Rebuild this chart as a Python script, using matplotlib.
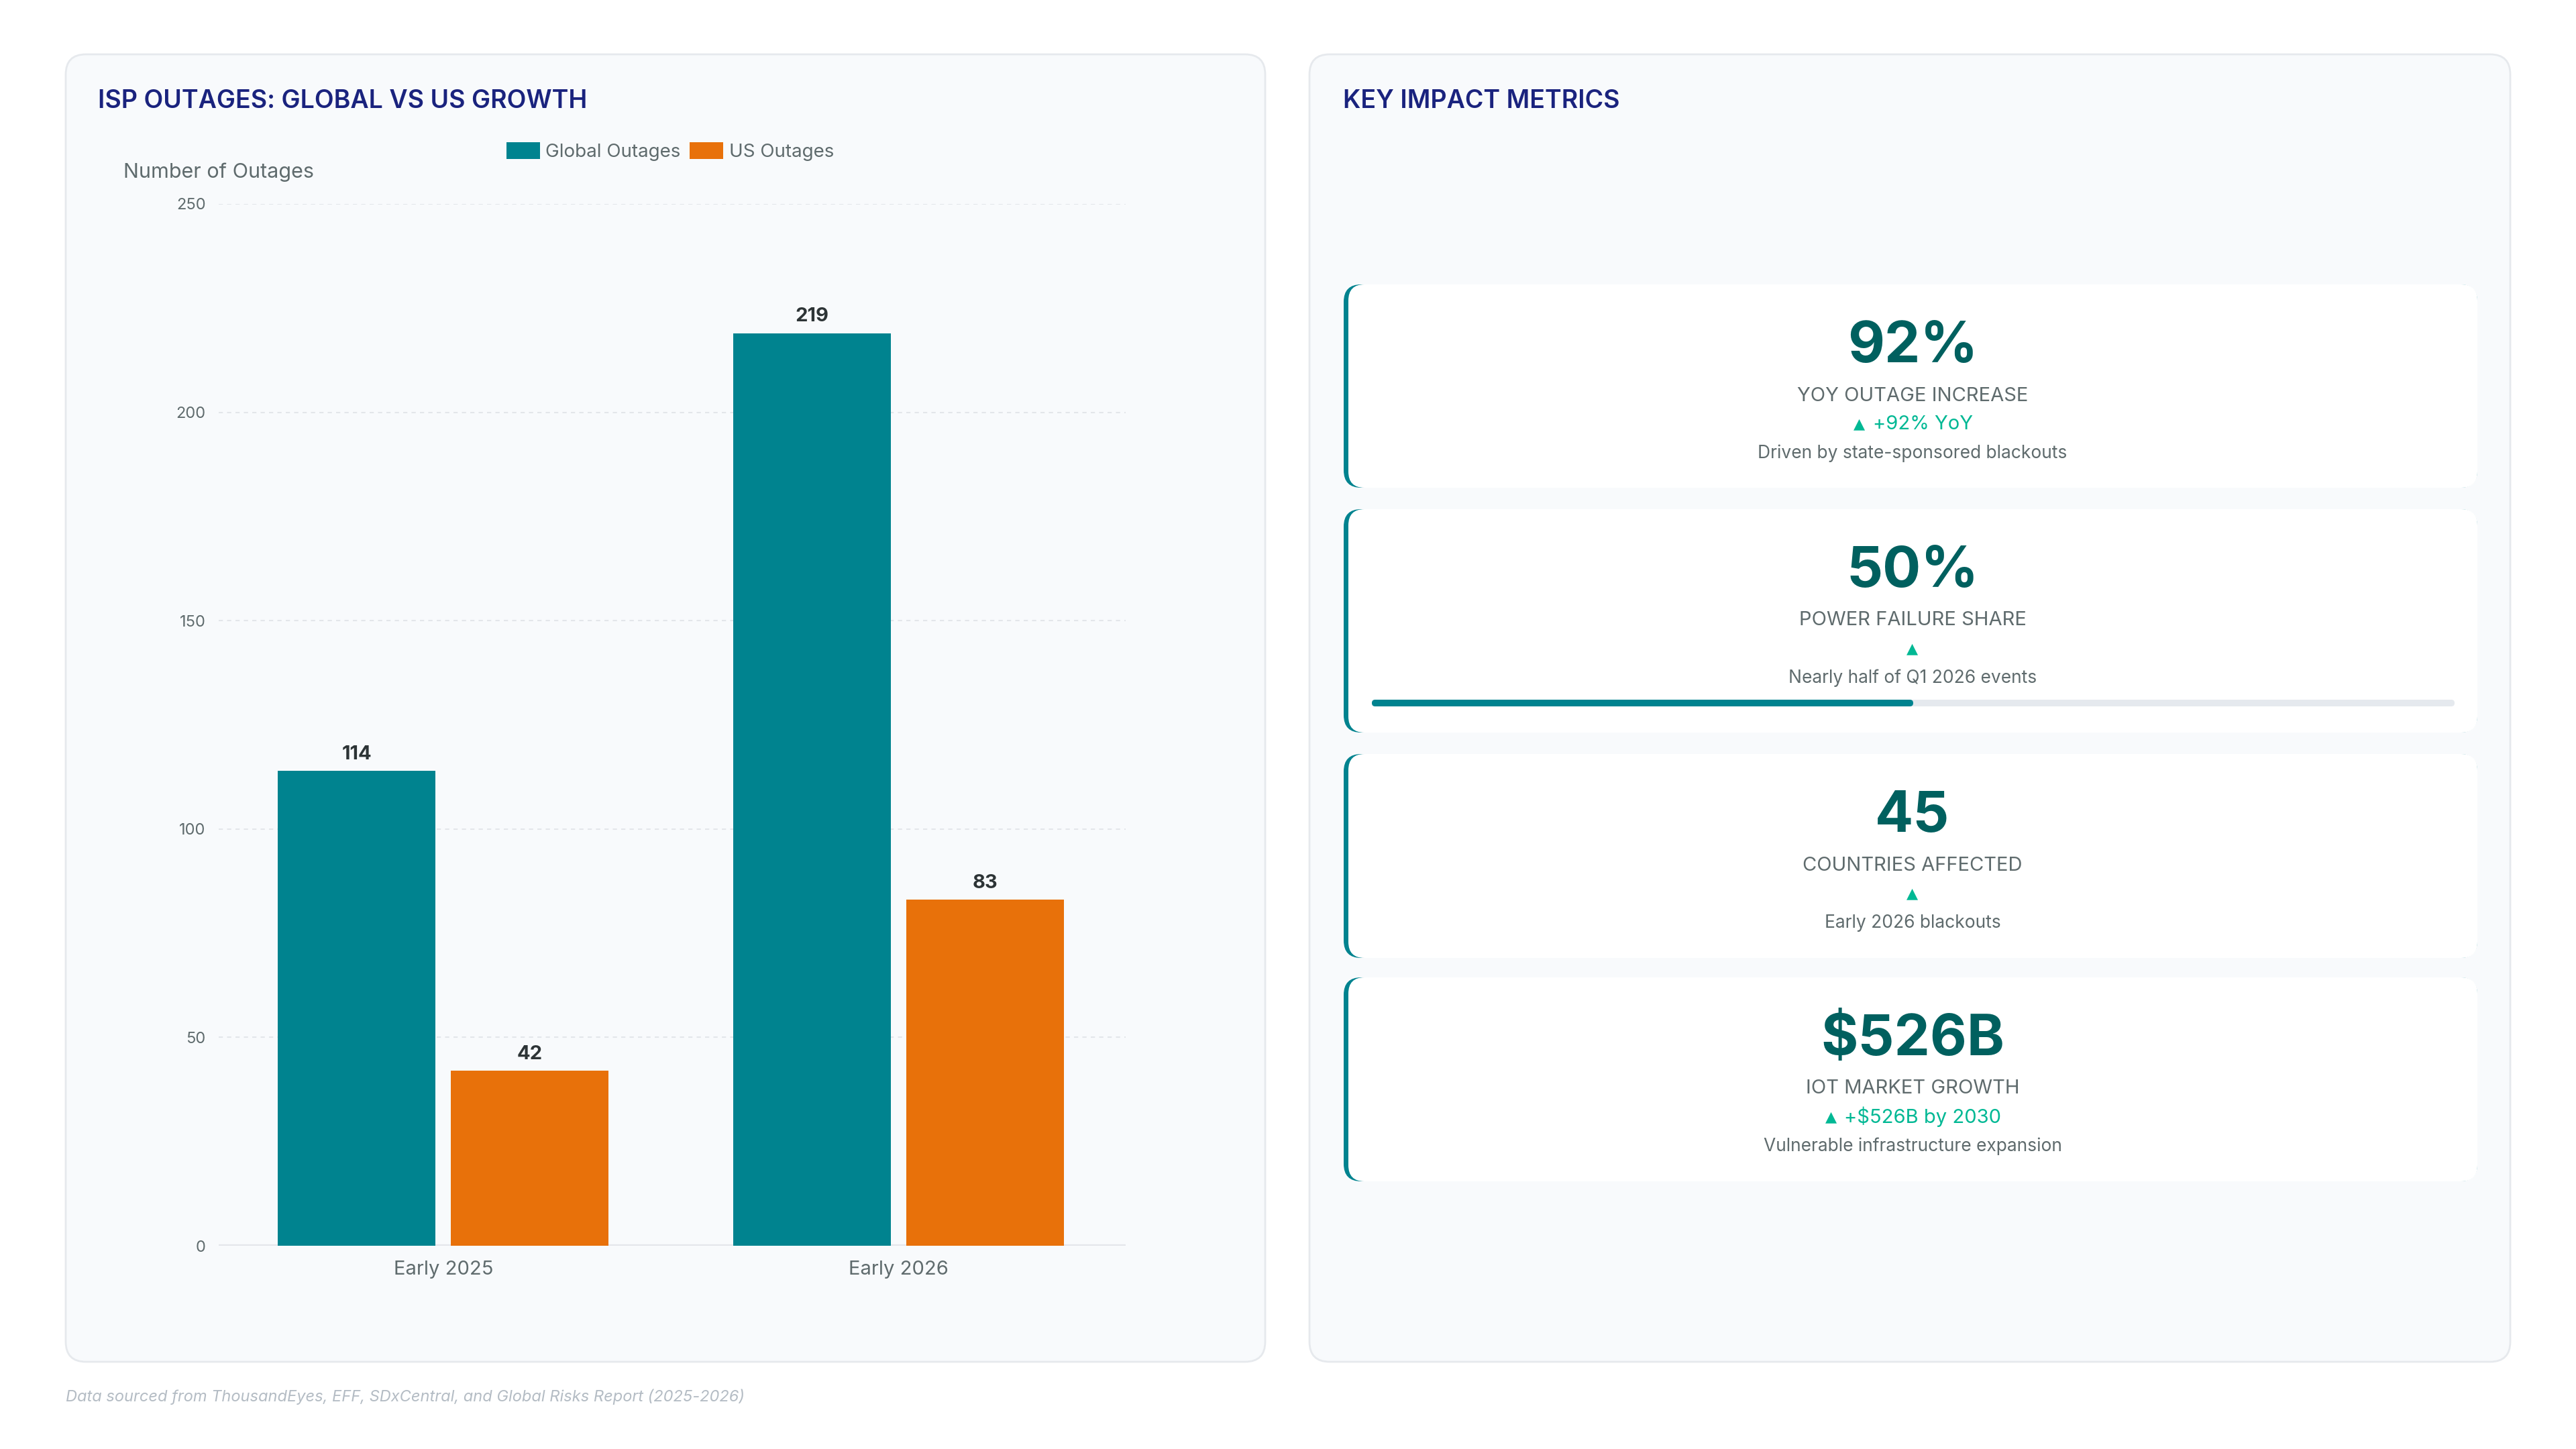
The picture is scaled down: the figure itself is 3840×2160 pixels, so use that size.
import matplotlib
matplotlib.use('Agg')
from matplotlib import pyplot
from matplotlib.patches import FancyBboxPatch, Patch

# chart data
periods = ['Early 2025', 'Early 2026']
global_outages = [114, 219]
us_outages = [42, 83]
y_ticks = [0, 50, 100, 150, 200, 250]

# metric cards
metric_values = ['92%', '50%', '45', '$526B']
metric_labels = ['YOY OUTAGE INCREASE', 'POWER FAILURE SHARE',
                 'COUNTRIES AFFECTED', 'IOT MARKET GROWTH']
metric_deltas = ['+92% YoY', '', '', '+$526B by 2030']
metric_notes = ['Driven by state-sponsored blackouts',
                'Nearly half of Q1 2026 events',
                'Early 2026 blackouts',
                'Vulnerable infrastructure expansion']
power_share = 0.50

# colours
cols = {'global': '#00838f', 'us': '#e8710a'}
NAVY = '#1a237e'
GREY = '#5f6b6d'
TEAL_DARK = '#00605f'
GREEN = '#00b894'

pyplot.rcParams['font.family'] = ['Inter', 'DejaVu Sans']

W, H = 3840, 2160
fig = pyplot.figure(figsize=(38.4, 21.6), dpi=100)
fig.patch.set_facecolor('white')

# background axes in pixel units
bg = fig.add_axes([0, 0, 1, 1])
bg.set_xlim(0, W)
bg.set_ylim(H, 0)
bg.axis('off')


def panel(x0, y0, x1, y1, fc, ec, r, lw=2.0):
    p = FancyBboxPatch((x0, y0), x1 - x0, y1 - y0,
                       boxstyle='round,pad=0,rounding_size=%d' % r,
                       fc=fc, ec=ec, lw=lw)
    bg.add_patch(p)


# the two large panels
panel(98, 81, 1886, 2030, '#f8fafc', '#e6e9ed', 30)
panel(1952, 81, 3742, 2030, '#f8fafc', '#e6e9ed', 30)

bg.text(146, 151, 'ISP OUTAGES: GLOBAL VS US GROWTH', color=NAVY,
        fontsize=27, fontweight='semibold', va='center', ha='left')
bg.text(2002, 151, 'KEY IMPACT METRICS', color=NAVY,
        fontsize=27, fontweight='semibold', va='center', ha='left')
bg.text(184, 257, 'Number of Outages', color=GREY, fontsize=22,
        va='center', ha='left')
bg.text(98, 2082, 'Data sourced from ThousandEyes, EFF, SDxCentral, and '
        'Global Risks Report (2025-2026)', color='#b4bcc4', fontsize=17,
        style='italic', va='center', ha='left')

# metric cards
card_tops = [424, 759, 1124, 1457]
card_bots = [727, 1092, 1428, 1761]
cx = 2851
for i in range(len(metric_values)):
    t, b = card_tops[i], card_bots[i]
    # teal left accent, then white card on top
    panel(2003, t, 3693, b, '#00838f', 'none', 26, lw=0)
    panel(2010, t, 3693, b, 'white', 'none', 24, lw=0)
    # the rows inside the card
    bg.text(cx, t + 116, metric_values[i], color=TEAL_DARK, fontsize=61,
            fontweight='bold', ha='center', va='baseline')
    bg.text(cx, t + 166, metric_labels[i], color=GREY, fontsize=21,
            ha='center', va='center')
    if metric_deltas[i]:
        dt = bg.text(cx + 15, t + 208, metric_deltas[i], color=GREEN,
                     fontsize=21, ha='center', va='center')
        bg.annotate('▲', xy=(0, 0.5), xycoords=dt, xytext=(-8, 0),
                    textcoords='offset points', color=GREEN, fontsize=16,
                    family=['DejaVu Sans'], ha='right', va='center')
    else:
        bg.text(cx, t + 208, '▲', color=GREEN, fontsize=16,
                family=['DejaVu Sans'], ha='center', va='center')
    bg.text(cx, t + 252, metric_notes[i], color=GREY, fontsize=19,
            ha='center', va='center')

# progress bar in the power failure card
px0, px1, py = 2045, 3659, 1048
bg.add_patch(FancyBboxPatch((px0, py - 5), px1 - px0, 10,
                            boxstyle='round,pad=0,rounding_size=5',
                            fc='#e5e9ee', ec='none'))
bg.add_patch(FancyBboxPatch((px0, py - 5), (px1 - px0) * power_share, 10,
                            boxstyle='round,pad=0,rounding_size=5',
                            fc='#00838f', ec='none'))

# bar chart axes
ax = fig.add_axes([326 / W, 1 - 1857 / H, (1678 - 326) / W, (1857 - 304) / H])
ax.set_facecolor('none')
x = list(range(len(periods)))
width = 0.346
off = 0.19
b1 = ax.bar([i - off for i in x], global_outages, width=width,
            color=cols['global'], zorder=3)
b2 = ax.bar([i + off for i in x], us_outages, width=width,
            color=cols['us'], zorder=3)
for bars, vals in [(b1, global_outages), (b2, us_outages)]:
    for rect, v in zip(bars, vals):
        ax.annotate('%d' % v, (rect.get_x() + rect.get_width() / 2, v),
                    xytext=(0, 8), textcoords='offset points',
                    ha='center', va='bottom', fontsize=21,
                    fontweight='bold', color='#2d3436')

ax.set_xlim(-0.493, 1.498)
ax.set_ylim(0, 250)
ax.set_yticks(y_ticks)
ax.set_xticks(x)
ax.set_xticklabels(periods)
ax.tick_params(axis='y', length=0, labelsize=17, labelcolor=GREY, pad=14)
ax.tick_params(axis='x', length=0, labelsize=21, labelcolor=GREY, pad=16)
for s in ax.spines.values():
    s.set_visible(False)
ax.grid(axis='y', color='#e3e6ea', linestyle=(0, (3, 3)), linewidth=1.5,
        zorder=0)
ax.axhline(0, color='#e3e6ea', linewidth=3, zorder=2)

# legend above the plot
handles = [Patch(facecolor=cols['global'], label='Global Outages'),
           Patch(facecolor=cols['us'], label='US Outages')]
leg = fig.legend(handles=handles, loc='center', ncol=2, frameon=False,
                 bbox_to_anchor=(999 / W, 1 - 226 / H), fontsize=20,
                 handlelength=1.8, handleheight=1.0, columnspacing=0.5,
                 handletextpad=0.3)
for t in leg.get_texts():
    t.set_color(GREY)

fig.savefig('out.png', dpi=100)
